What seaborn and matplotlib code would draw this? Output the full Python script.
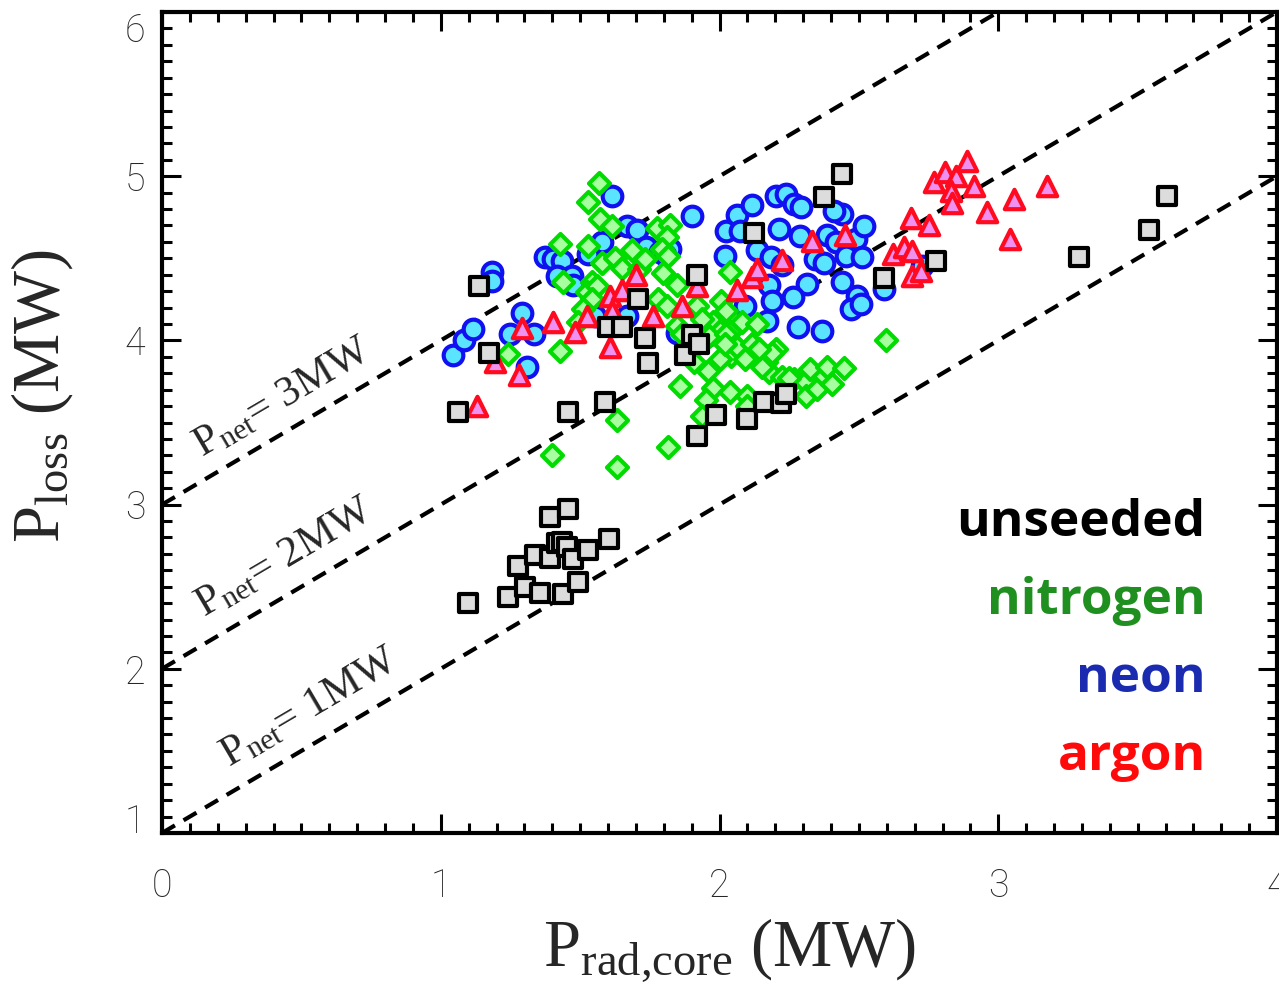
import numpy as np
import pandas as pd
import matplotlib
matplotlib.use("Agg")
import matplotlib.pyplot as plt
import seaborn as sns

# Core radiated power (MW) and power crossing the separatrix (MW) per discharge
unseeded_prad = [1.061, 1.136, 1.172, 1.455, 1.588, 1.599, 1.652, 1.706, 1.731, 1.742,
                 1.875, 1.903, 1.928, 1.918, 1.918, 1.989, 2.100, 2.122, 2.161, 2.222,
                 2.240, 2.376, 2.441, 2.591, 2.778, 3.290, 3.541, 3.606,
                 1.097, 1.240, 1.276, 1.301, 1.337, 1.355, 1.391, 1.391, 1.416, 1.434,
                 1.452, 1.455, 1.473, 1.437, 1.491, 1.527, 1.602]
unseeded_ploss = [3.561, 4.329, 3.921, 3.561, 3.622, 4.079, 4.079, 4.250, 4.012, 3.860,
                  3.909, 4.030, 3.976, 4.396, 3.415, 3.543, 3.524, 4.652, 3.622, 3.616,
                  3.671, 4.872, 5.012, 4.378, 4.482, 4.506, 4.671, 4.878,
                  2.402, 2.439, 2.628, 2.500, 2.695, 2.463, 2.927, 2.677, 2.768, 2.774,
                  2.744, 2.976, 2.671, 2.457, 2.530, 2.726, 2.793]

nitrogen_prad = [1.240, 1.398, 1.427, 1.437, 1.427, 1.527, 1.566, 1.570, 1.613, 1.685,
                 1.527, 1.577, 1.624, 1.649, 1.541, 1.523, 1.559, 1.541, 1.509, 1.491,
                 1.634, 1.634, 1.774, 1.821, 1.810, 1.792, 1.814, 1.796, 1.846, 2.036,
                 1.778, 1.810, 1.910, 1.921, 2.007, 2.025, 1.975, 2.036, 2.082, 2.133,
                 2.000, 1.849, 1.867, 1.964, 1.910, 1.957, 1.857, 1.975, 1.953, 2.036,
                 2.097, 2.043, 2.061, 2.090, 2.118, 2.025, 2.168, 2.204, 2.179, 2.226,
                 2.269, 2.305, 2.312, 2.348, 2.366, 2.323, 2.384, 1.939, 1.814, 2.097,
                 2.154, 2.599, 2.405, 2.448, 2.190, 2.251, 2.143, 1.713, 1.731, 1.939,
                 2.000, 2.018]
nitrogen_ploss = [3.915, 3.305, 3.933, 4.354, 4.585, 4.841, 4.957, 4.738, 4.695, 4.549,
                  4.573, 4.470, 4.500, 4.439, 4.354, 4.293, 4.329, 4.250, 4.189, 4.110,
                  3.518, 3.226, 4.683, 4.701, 4.628, 4.555, 4.512, 4.409, 4.335, 4.415,
                  4.250, 4.207, 4.189, 4.207, 4.238, 4.177, 4.110, 4.049, 4.110, 4.098,
                  4.055, 4.085, 4.037, 4.024, 3.866, 3.811, 3.720, 3.713, 3.640, 3.683,
                  3.659, 3.902, 3.957, 3.884, 3.976, 4.037, 3.866, 3.945, 3.805, 3.780,
                  3.762, 3.744, 3.659, 3.701, 3.793, 3.823, 3.841, 3.537, 3.348, 3.598,
                  3.841, 4.000, 3.732, 3.829, 3.921, 3.774, 3.945, 4.433, 4.494, 4.128,
                  3.884, 3.976]

neon_prad = [1.043, 1.082, 1.115, 1.183, 1.183, 1.247, 1.290, 1.333, 1.308, 1.373,
             1.401, 1.434, 1.416, 1.470, 1.473, 1.552, 1.667, 1.616, 1.667, 1.703,
             1.577, 1.527, 1.738, 1.785, 1.821, 1.803, 1.846, 1.903, 2.025, 2.061,
             2.115, 2.072, 2.018, 2.133, 2.186, 2.226, 2.204, 2.240, 2.269, 2.294,
             2.215, 2.287, 2.341, 2.376, 2.387, 2.419, 2.441, 2.412, 2.466, 2.491,
             2.520, 2.455, 2.513, 2.179, 2.315, 2.190, 2.265, 2.093, 2.172, 2.280,
             2.366, 2.441, 2.495, 2.470, 2.509, 2.591, 2.728]
neon_ploss = [3.909, 4.000, 4.067, 4.415, 4.360, 4.037, 4.165, 4.037, 3.841, 4.506,
              4.494, 4.482, 4.390, 4.390, 4.335, 4.146, 4.146, 4.878, 4.695, 4.671,
              4.598, 4.524, 4.567, 4.537, 4.555, 4.518, 4.043, 4.756, 4.665, 4.762,
              4.823, 4.665, 4.512, 4.549, 4.506, 4.457, 4.878, 4.890, 4.829, 4.811,
              4.677, 4.634, 4.494, 4.470, 4.640, 4.598, 4.768, 4.787, 4.573, 4.616,
              4.695, 4.512, 4.506, 4.335, 4.341, 4.238, 4.262, 4.207, 4.116, 4.079,
              4.055, 4.354, 4.268, 4.189, 4.220, 4.311, 4.451]

argon_prad = [1.129, 1.194, 1.280, 1.290, 1.401, 1.480, 1.523, 1.606, 1.606, 1.613,
              1.652, 1.699, 1.760, 1.864, 1.918, 2.061, 2.115, 2.133, 2.226, 2.333,
              2.452, 2.624, 2.663, 2.692, 2.692, 2.724, 2.688, 2.753, 2.771, 2.810,
              2.849, 2.889, 2.832, 2.835, 2.914, 2.961, 3.057, 3.043, 3.176]
argon_ploss = [3.598, 3.866, 3.787, 4.073, 4.110, 4.049, 4.146, 3.957, 4.268, 4.177,
               4.305, 4.396, 4.146, 4.207, 4.329, 4.305, 4.384, 4.433, 4.488, 4.604,
               4.640, 4.524, 4.567, 4.543, 4.390, 4.421, 4.744, 4.701, 4.963, 5.024,
               5.000, 5.091, 4.909, 4.835, 4.939, 4.780, 4.860, 4.616, 4.939]

pnet_levels = [1, 2, 3]
x_ticks = [0, 1, 2, 3, 4]
y_ticks = [1, 2, 3, 4, 5, 6]
legend_labels = ["unseeded", "nitrogen", "neon", "argon"]
legend_colors = ["#000000", "#1f8f1f", "#1a2bb0", "#ff0a0a"]

sns.set_style("ticks")
plt.rcParams["mathtext.fontset"] = "custom"
plt.rcParams["mathtext.rm"] = "Liberation Serif"
plt.rcParams["mathtext.it"] = "Liberation Serif:italic"
plt.rcParams["font.family"] = ["Liberation Serif", "DejaVu Sans"]

fig = plt.figure(figsize=(12.79, 9.92), dpi=100)
ax = fig.add_axes([162 / 1279, 1 - 833 / 992, 1115 / 1279, 821 / 992])

# Reference lines of constant net power P_loss = P_rad + P_net
xl = np.array([0.0, 4.0])
for p in pnet_levels:
    ax.plot(xl, xl + p, color="black", lw=3.0, ls=(0, (3.6, 2.4)), zorder=1,
            dash_capstyle="butt")

groups = [
    (neon_prad, neon_ploss, "o", 200, "#5be4ff", "#1010f0"),
    (nitrogen_prad, nitrogen_ploss, "D", 115, "#a8ffa0", "#00dc00"),
    (argon_prad, argon_ploss, "^", 195, "#f090f0", "#ff0a1e"),
    (unseeded_prad, unseeded_ploss, "s", 165, "#dcdcdc", "#000000"),
]
for i, (px, py, mk, size, face, edge) in enumerate(groups):
    df = pd.DataFrame({"prad": px, "ploss": py})
    sns.scatterplot(data=df, x="prad", y="ploss", marker=mk, s=size, color=face,
                    edgecolor=edge, linewidth=3.0, ax=ax, zorder=2 + i, legend=False)

ax.set_xlim(0, 4)
ax.set_ylim(1, 6)
ax.set_xticks(x_ticks)
ax.set_yticks(y_ticks)
ax.set_xticks(np.arange(0, 4.0001, 0.1), minor=True)
ax.set_yticks(np.arange(1, 6.0001, 0.1), minor=True)
ax.tick_params(which="both", direction="in", top=True, right=True, width=2.2,
               color="black")
ax.tick_params(which="major", length=14)
ax.tick_params(which="minor", length=7)
ax.tick_params(axis="x", pad=25)
ax.tick_params(axis="y", pad=12)
ax.set_xticklabels([str(t) for t in x_ticks], fontsize=27, family="Roboto",
                   fontweight="light")
ax.set_yticklabels([str(t) for t in y_ticks], fontsize=27, family="Roboto",
                   fontweight="light")
ylabs = ax.get_yticklabels()
ylabs[-1].set_va("top")
ylabs[0].set_va("baseline")
for sp in ax.spines.values():
    sp.set_linewidth(3.0)
    sp.set_color("black")

ax.set_xlabel(r"P$_{\rm rad{,}core}$ (MW)", fontsize=48, family="Liberation Serif")
ax.set_ylabel(r"P$_{\rm loss}$ (MW)", fontsize=48, family="Liberation Serif")
ax.xaxis.set_label_coords(0.509, -0.102)
ax.yaxis.set_label_coords(-0.078, 0.532)

# Annotations along the constant net-power lines
angle = np.degrees(np.arctan2(164, 279))
for p, (tx, ty) in zip(pnet_levels, [(0.530, 1.762), (0.441, 2.677), (0.434, 3.652)]):
    ax.text(tx, ty, r"P$_{\rm net}$= %dMW" % p, fontsize=31, family="Liberation Serif",
            rotation=angle, rotation_mode="anchor", ha="center", va="center",
            zorder=10)

# Seeding species key
for k, (lab, col) in enumerate(zip(legend_labels, legend_colors)):
    ax.text(0.936, 0.377 - k * 0.095, lab, transform=ax.transAxes, ha="right",
            va="center", fontsize=37, fontweight="bold", color=col, family="Open Sans")

fig.savefig("out.png", dpi=100)
